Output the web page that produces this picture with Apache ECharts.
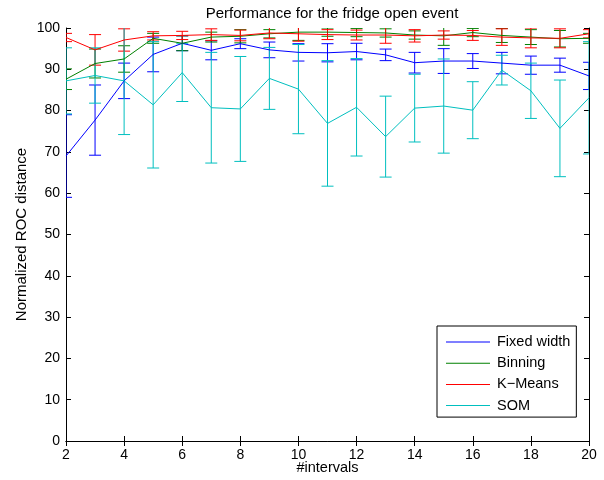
<!DOCTYPE html>
<html><head><meta charset="utf-8">
<script src="https://cdn.jsdelivr.net/npm/echarts@6/dist/echarts.min.js"></script>
<style>html,body{margin:0;padding:0;background:#fff}#c{width:604px;height:480px}</style>
</head><body><div id="c"></div>
<script>
const intervals = [2,3,4,5,6,7,8,9,10,11,12,13,14,15,16,17,18,19,20];

const fixedWidthMean = [69.0,77.7,87.2,93.6,96.3,94.6,96.2,94.7,94.1,94.0,94.3,93.5,91.6,92.0,92.0,91.5,91.0,91.0,88.4];
const fixedWidthErr  = [10.0,8.5,4.3,4.2,1.8,2.3,1.2,1.9,2.1,2.2,2.0,1.4,2.5,3.0,1.8,2.6,2.2,1.7,3.3];

const binningMean = [87.6,91.4,92.5,97.5,96.3,97.8,98.0,98.6,99.0,99.0,98.9,98.8,98.3,98.1,98.9,98.2,97.8,97.4,97.5];
const binningErr  = [2.5,3.5,3.2,1.2,1.8,1.2,1.6,1.0,2.0,1.0,1.0,1.0,1.0,2.3,1.0,1.7,1.8,2.0,1.2];

const kMeansMean = [97.7,94.7,97.1,98.1,98.2,98.4,98.2,98.8,98.6,98.4,98.3,98.3,98.1,98.3,98.2,97.8,97.6,97.5,98.6];
const kMeansErr  = [1.0,3.7,2.7,1.0,1.0,1.4,1.3,1.4,1.8,1.2,1.2,2.0,1.5,1.0,1.2,2.0,2.4,2.3,1.0];

const somMean = [87.2,88.5,87.2,81.4,89.2,80.7,80.4,87.8,85.2,76.9,80.8,73.7,80.6,81.1,80.1,89.8,84.8,75.7,83.1];
const somErr  = [8.0,6.7,13.0,15.3,7.0,13.4,12.7,7.5,10.8,15.2,11.8,9.8,8.2,11.4,6.9,3.6,6.7,11.7,13.6];

const seriesNames = ['Fixed width','Binning','K\u2212Means','SOM'];
const seriesColors = ['#0000ff','#008000','#ff0000','#00bfbf'];
const seriesMeans = [fixedWidthMean, binningMean, kMeansMean, somMean];
const seriesErrs = [fixedWidthErr, binningErr, kMeansErr, somErr];

const FONT = '"Liberation Sans", Arial, Helvetica, sans-serif';

function errRender(color){
  return function(params, api){
    const x = api.value(0), m = api.value(1), e = api.value(2);
    const t = api.coord([x, m + e]);
    const b = api.coord([x, m - e]);
    const hw = 6;
    const st = {stroke: color, lineWidth: 1};
    return {type:'group', children:[
      {type:'line', shape:{x1:t[0], y1:t[1], x2:b[0], y2:b[1]}, style:st},
      {type:'line', shape:{x1:t[0]-hw, y1:t[1], x2:t[0]+hw, y2:t[1]}, style:st},
      {type:'line', shape:{x1:b[0]-hw, y1:b[1], x2:b[0]+hw, y2:b[1]}, style:st}
    ]};
  };
}

const series = [];
seriesNames.forEach((name, k) => {
  series.push({
    name: name + ' err', type: 'custom', clip: true, silent: true,
    renderItem: errRender(seriesColors[k]),
    encode: {x: 0, y: 1},
    data: intervals.map((x, i) => [x, seriesMeans[k][i], seriesErrs[k][i]]),
    z: 2
  });
  series.push({
    name: name, type: 'line', symbol: 'none', silent: true,
    lineStyle: {color: seriesColors[k], width: 1},
    itemStyle: {color: seriesColors[k]},
    data: intervals.map((x, i) => [x, seriesMeans[k][i]]),
    z: 2
  });
});

const axisCommon = {
  axisLine: {show: true, lineStyle: {color: '#000', width: 1}},
  axisTick: {show: true, inside: true, length: 5, lineStyle: {color: '#000'}},
  splitLine: {show: false}
};

const chart = echarts.init(document.getElementById('c'), null, {renderer: 'canvas'});
chart.setOption({
  animation: false,
  backgroundColor: '#fff',
  title: {
    text: 'Performance for the fridge open event',
    left: 327, top: 1, textAlign: 'center',
    textStyle: {fontFamily: FONT, fontSize: 15, fontWeight: 'normal', color: '#000'}
  },
  grid: {left: 66, right: 15, top: 28, bottom: 39, containLabel: false},
  legend: {
    data: seriesNames.map((n, k) => ({name: n, icon: 'rect', itemStyle: {color: seriesColors[k]}})),
    orient: 'vertical', left: 437, top: 326,
    itemWidth: 44, itemHeight: 1, itemGap: 6.2,
    padding: [8.5, 6, 4, 9],
    borderColor: '#000', borderWidth: 1, backgroundColor: '#fff',
    textStyle: {fontFamily: FONT, fontSize: 14.5, color: '#000', padding: [0,0,0,2]},
    selectedMode: false
  },
  xAxis: [
    Object.assign({type: 'value', min: 2, max: 20, interval: 2, position: 'bottom',
      name: '#intervals', nameLocation: 'middle', nameGap: 19, nameMoveOverlap: false,
      nameTextStyle: {fontFamily: FONT, fontSize: 14.5, color: '#000'},
      axisLabel: {fontFamily: FONT, fontSize: 14, color: '#000', margin: 7}}, axisCommon),
    Object.assign({type: 'value', min: 2, max: 20, interval: 2, position: 'top',
      axisLabel: {show: false}}, axisCommon)
  ],
  yAxis: [
    Object.assign({type: 'value', min: 0, max: 100, interval: 10, position: 'left',
      name: 'Normalized ROC distance', nameLocation: 'middle', nameGap: 37, nameMoveOverlap: false,
      nameTextStyle: {fontFamily: FONT, fontSize: 15, color: '#000'},
      axisLabel: {fontFamily: FONT, fontSize: 14, color: '#000', margin: 6}}, axisCommon),
    Object.assign({type: 'value', min: 0, max: 100, interval: 10, position: 'right',
      axisLabel: {show: false}}, axisCommon)
  ],
  series: series
});
</script>
</body></html>
